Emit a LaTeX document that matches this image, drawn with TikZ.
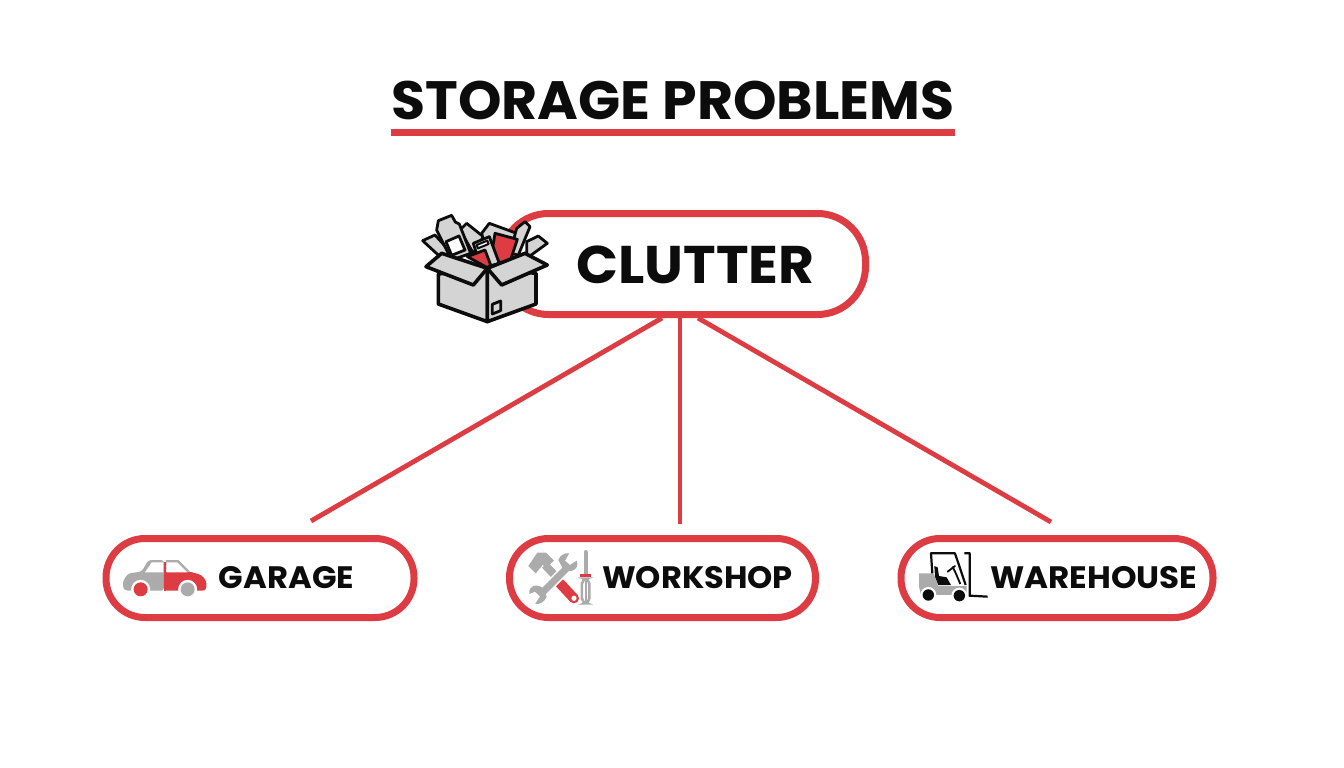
\documentclass[tikz,border=0pt]{standalone}
\usepackage{fontspec}
\usepackage{graphicx}
\usetikzlibrary{calc}
\setmainfont{Poppins}
\definecolor{accent}{HTML}{DD3C42}
\definecolor{gr}{HTML}{ABABAB}
\definecolor{lg}{HTML}{D4D4D4}
\definecolor{ink}{HTML}{0C0C0C}
\tikzset{
 pill/.style={draw=accent,line width=7pt,fill=white,rounded corners=#1,inner sep=0pt},
 pill/.default=39pt,
 link/.style={draw=accent,line width=4.8pt},
 lab/.style={font=\bfseries\fontsize{31}{31}\selectfont,text=ink,inner sep=0pt},
 boxline/.style={draw=ink,line width=3.6pt,line join=round},
 itemline/.style={draw=ink,line width=2.8pt,line join=round},
}
\begin{document}
\begin{tikzpicture}[x=1pt,y=-1pt]
\useasboundingbox (0,0) rectangle (1344,768);
\fill[white] (0,0) rectangle (1344,768);
\node[inner sep=0pt,font=\bfseries\fontsize{54}{54}\selectfont,text=ink] (title) at (673,100) {\scalebox{1.025}[1]{STORAGE PROBLEMS}};
\coordinate (ulL) at (391,132.5); \coordinate (ulR) at (955,132.5);
\draw[accent,line width=6.5pt] (ulL) -- (ulR);

\node[pill=48pt,minimum width=365pt,minimum height=101pt] (clutter) at (683,264) {};
\node[pill,minimum width=308pt,minimum height=79pt] (garage) at (260,578) {};
\node[pill,minimum width=306pt,minimum height=79pt] (workshop) at (662.5,578) {};
\node[pill,minimum width=312pt,minimum height=79pt] (warehouse) at (1057,578) {};

\node[lab,font=\bfseries\fontsize{53}{53}\selectfont] (clab) at (695.5,265) {\scalebox{1.04}[1]{CLUTTER}};
\node[lab] (glab) at (286.5,578) {\scalebox{1.04}[1]{GARAGE}};
\node[lab] (wlab) at (697.5,578) {\scalebox{1.035}[1]{WORKSHOP}};
\node[lab] (hlab) at (1094,578) {\scalebox{1.05}[1]{WAREHOUSE}};

\coordinate (c1) at ($(clutter.south)+(-21,0)$);
\coordinate (c2) at ($(clutter.south)+(-3,0)$);
\coordinate (c3) at ($(clutter.south)+(15,0)$);
\coordinate (e1) at (311,521); \coordinate (e2) at (680,524); \coordinate (e3) at (1051,522);
\draw[link] (c1) -- (e1);
\draw[link] (c2) -- (e2);
\draw[link] (c3) -- (e3);

% box icon
\begin{scope}[shift={(410,200)},x=0.3333pt,y=-0.3333pt]
 \path[itemline,fill=lg] (38,122) -- (75,105) -- (125,160) -- (90,170) -- cycle;
 \path[itemline,fill=lg] (350,125) -- (385,108) -- (412,130) -- (350,175) -- cycle;
 \path[itemline,fill=lg] (150,90) -- (170,70) -- (220,110) -- (190,160) -- cycle;
 \path[itemline,fill=lg] (215,100) -- (238,70) -- (320,100) -- (300,180) -- (240,190) -- cycle;
 \path[itemline,fill=lg] (85,62) -- (125,46) -- (136,66) -- (148,72) -- (182,160) -- (125,180) -- (80,90) -- cycle;
 \path[itemline,fill=white] (108,125) -- (147,108) -- (165,150) -- (125,166) -- cycle;
 \path[itemline,fill=lg] (320,85) -- (345,65) -- (360,80) -- (325,165) -- (300,160) -- cycle;
 \path[itemline,fill=accent] (255,100) -- (322,118) -- (300,185) -- (240,195) -- cycle;
 \path[itemline,fill=lg] (190,130) -- (238,110) -- (268,190) -- (232,200) -- (210,195) -- cycle;
 \path[itemline,line width=2pt,fill=white] (200,135) -- (232,122) -- (236,132) -- (204,145) -- cycle;
 \path[itemline,fill=accent] (172,170) -- (225,150) -- (242,195) -- (232,203) -- cycle;
 \path[boxline,fill=lg] (85,222) -- (232,205) -- (232,365) -- (85,312) -- cycle;
 \path[boxline,fill=lg] (232,205) -- (378,220) -- (378,312) -- (232,365) -- cycle;
 \path[boxline,fill=lg] (95,160) -- (232,205) -- (190,255) -- (48,200) -- cycle;
 \path[boxline,fill=lg] (232,205) -- (345,160) -- (412,195) -- (275,255) -- cycle;
 \path[itemline,fill=lg] (247,313) -- (272,303) -- (272,332) -- (247,342) -- cycle;
\end{scope}

% car icon
\begin{scope}[shift={(100,530)},x=0.3333pt,y=-0.3333pt]
 \fill[gr,rounded corners=3pt] (192,182) -- (75,182) -- (68,170) -- (70,150) -- (85,130) -- (125,125) -- (145,90) -- (192,90) -- cycle;
 \fill[accent,rounded corners=3pt] (192,125) -- (270,125) -- (305,135) -- (320,155) -- (318,182) -- (192,182) -- cycle;
 \fill[gr] (192,90) -- (235,90) -- (270,125) -- (200,125) -- (198,90) -- cycle;
 \fill[white] (135,127) -- (155,97) -- (190,97) -- (190,127) -- cycle;
 \fill[white] (200,97) -- (232,97) -- (262,127) -- (200,127) -- cycle;
 \fill[accent] (192,97) rectangle (199,182);
 \fill[white] (122,178) circle[radius=9.5pt] (263,178) circle[radius=9.5pt];
 \fill[accent] (122,178) circle[radius=7pt];
 \fill[gr] (263,178) circle[radius=7pt];
\end{scope}

% tools icon
\begin{scope}[shift={(500,530)},x=0.3333pt,y=-0.3333pt]
 \fill[gr] (85,108) -- (112,68) -- (138,68) -- (162,92) -- (140,112) -- (128,105) -- (107,130) -- cycle;
 \draw[gr,line width=8pt] (135,105) -- (170,142);
 \draw[accent,line width=10pt,line cap=round] (180,160) -- (222,205);
 \fill[white] (222,205) circle[radius=2.6pt];
 \draw[white,line width=10pt] (195,120) -- (135,180);
 \draw[gr,line width=7pt] (205,110) -- (125,190);
 \fill[gr] (230,92) .. controls (240,120) and (210,130) .. (190,118) -- (175,90) .. controls (180,75) and (195,68) .. (208,70) -- (195,92) -- (210,105) -- cycle;
 \fill[gr] (88,192) .. controls (85,165) and (110,160) .. (130,175) -- (140,200) .. controls (135,215) and (118,225) .. (105,222) -- (120,200) -- (105,185) -- cycle;
 \draw[gr,line width=4pt,line cap=round] (257,66) -- (257,132);
 \draw[accent,line width=3pt] (241,137) -- (273,137);
 \draw[gr,line width=2.5pt,fill=white,rounded corners=5pt] (246,146) rectangle (268,220);
 \draw[gr,line width=2pt] (257,150) -- (257,215);
\end{scope}

% forklift icon
\begin{scope}[shift={(895,530)},x=0.3333pt,y=-0.3333pt]
 \fill[gr] (72,130) -- (115,130) -- (130,168) -- (215,168) -- (215,195) -- (78,195) -- (72,170) -- cycle;
 \draw[ink,line width=2.2pt,line join=round] (112,130) -- (108,70) -- (180,70) -- (212,165);
 \fill[ink] (118,108) -- (128,112) -- (132,138) -- (155,142) -- (168,165) -- (130,165) -- (120,140) -- cycle;
 \draw[ink,line width=1.8pt,line cap=round] (158,125) -- (180,108);
 \draw[ink,line width=1.8pt] (172,110) .. controls (182,125) and (190,150) .. (196,162);
 \draw[ink,line width=2.2pt] (208,70) -- (226,70) (224,70) -- (224,197) -- (278,200);
 \fill[white] (100,195) circle[radius=8pt] (193,197) circle[radius=8pt];
 \fill[ink] (100,195) circle[radius=5.7pt] (193,197) circle[radius=5.7pt];
\end{scope}
\end{tikzpicture}
\end{document}
